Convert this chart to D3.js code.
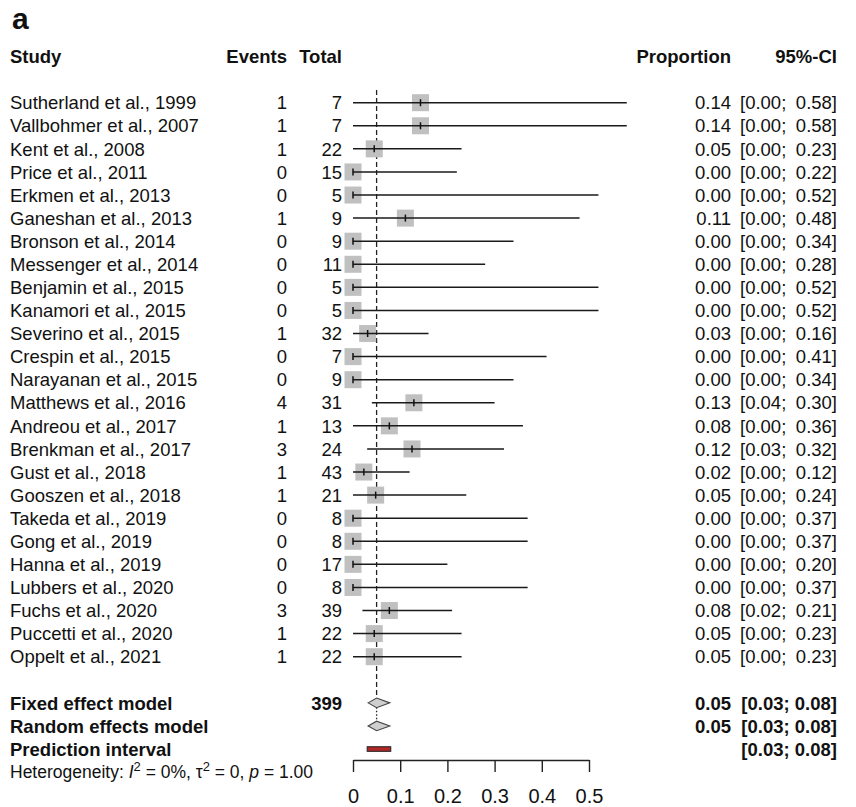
<!DOCTYPE html>
<html>
<head>
<meta charset="utf-8">
<script src="https://cdn.jsdelivr.net/npm/d3@7"></script>
<style>
  html, body { margin: 0; padding: 0; background: #fff; }
  svg text { font-family: "Liberation Sans", Arial, Helvetica, sans-serif; fill: #111; }
</style>
</head>
<body>
<svg id="chart" width="856" height="807"></svg>
<script>
// ---------- data ----------
const studies = [
  "Sutherland et al., 1999", "Vallbohmer et al., 2007", "Kent et al., 2008",
  "Price et al., 2011", "Erkmen et al., 2013", "Ganeshan et al., 2013",
  "Bronson et al., 2014", "Messenger et al., 2014", "Benjamin et al., 2015",
  "Kanamori et al., 2015", "Severino et al., 2015", "Crespin et al., 2015",
  "Narayanan et al., 2015", "Matthews et al., 2016", "Andreou et al., 2017",
  "Brenkman et al., 2017", "Gust et al., 2018", "Gooszen et al., 2018",
  "Takeda et al., 2019", "Gong et al., 2019", "Hanna et al., 2019",
  "Lubbers et al., 2020", "Fuchs et al., 2020", "Puccetti et al., 2020",
  "Oppelt et al., 2021"
];
const events = [1, 1, 1, 0, 0, 1, 0, 0, 0, 0, 1, 0, 0, 4, 1, 3, 1, 1, 0, 0, 0, 0, 3, 1, 1];
const totals = [7, 7, 22, 15, 5, 9, 9, 11, 5, 5, 32, 7, 9, 31, 13, 24, 43, 21, 8, 8, 17, 8, 39, 22, 22];
const proportion = [0.143, 0.143, 0.045, 0, 0, 0.111, 0, 0, 0, 0, 0.031, 0, 0, 0.129, 0.077,
                    0.125, 0.023, 0.048, 0, 0, 0, 0, 0.077, 0.045, 0.045];
const proportionLabels = ["0.14", "0.14", "0.05", "0.00", "0.00", "0.11", "0.00", "0.00", "0.00",
                          "0.00", "0.03", "0.00", "0.00", "0.13", "0.08", "0.12", "0.02", "0.05",
                          "0.00", "0.00", "0.00", "0.00", "0.08", "0.05", "0.05"];
const ciLower = [0.00, 0.00, 0.00, 0.00, 0.00, 0.00, 0.00, 0.00, 0.00, 0.00, 0.00, 0.00, 0.00,
                 0.04, 0.00, 0.03, 0.00, 0.00, 0.00, 0.00, 0.00, 0.00, 0.02, 0.00, 0.00];
const ciUpper = [0.58, 0.58, 0.23, 0.22, 0.52, 0.48, 0.34, 0.28, 0.52, 0.52, 0.16, 0.41, 0.34,
                 0.30, 0.36, 0.32, 0.12, 0.24, 0.37, 0.37, 0.20, 0.37, 0.21, 0.23, 0.23];

const summaryLabels = ["Fixed effect model", "Random effects model", "Prediction interval"];
const summaryEstimate = [0.05, 0.05, null];
const summaryLower = [0.032, 0.032, 0.03];
const summaryUpper = [0.078, 0.078, 0.08];
const summaryCiText = ["[0.03; 0.08]", "[0.03; 0.08]", "[0.03; 0.08]"];
const summaryPropText = ["0.05", "0.05", ""];
const totalEvents = "399";
const axisTicks = [0, 0.1, 0.2, 0.3, 0.4, 0.5];
const headers = { study: "Study", events: "Events", total: "Total", prop: "Proportion", ci: "95%-CI" };

// ---------- layout ----------
const svg = d3.select("#chart");
const x = d3.scaleLinear().domain([0, 0.5]).range([353, 589]);
const row = d3.scaleLinear().domain([0, 24]).range([102.7, 656.7]);
const fs = 18.5;
const colStudy = 10, colEvents = 287, colTotal = 342, colProp = 731, colCiL = 740, colCiR = 837;
const sq = 17;

function txt(g, s, xx, yy, anchor, bold, size) {
  return g.append("text")
    .attr("x", xx).attr("y", yy).attr("dy", "0.36em")
    .attr("text-anchor", anchor || "start")
    .attr("font-weight", bold ? "bold" : "normal")
    .attr("font-size", size || fs)
    .text(s);
}

// panel letter
svg.append("text").attr("x", 12).attr("y", 29).attr("font-size", 30)
  .attr("font-weight", "bold").text("a");

// headers
const hy = row(-2);
const gh = svg.append("g");
txt(gh, headers.study, colStudy, hy, "start", true);
txt(gh, headers.events, colEvents, hy, "end", true);
txt(gh, headers.total, colTotal, hy, "end", true);
txt(gh, headers.prop, colProp, hy, "end", true);
txt(gh, headers.ci, colCiR, hy, "end", true);

// reference lines
svg.append("line").attr("x1", x(0.05)).attr("x2", x(0.05))
  .attr("y1", 90).attr("y2", row(26) - 4.5)
  .attr("stroke", "#222").attr("stroke-width", 1.3).attr("stroke-dasharray", "5,3");
svg.append("line").attr("x1", x(0.05)).attr("x2", x(0.05))
  .attr("y1", row(26) + 4.5).attr("y2", row(27) - 4.5)
  .attr("stroke", "#222").attr("stroke-width", 1.3).attr("stroke-dasharray", "1.5,2");

// study rows
const gt = svg.append("g");
const gm = svg.append("g");
studies.forEach((s, i) => {
  const y = row(i);
  txt(gt, s, colStudy, y, "start", false);
  txt(gt, String(events[i]), colEvents, y, "end", false);
  txt(gt, String(totals[i]), colTotal, y, "end", false);
  txt(gt, proportionLabels[i], colProp, y, "end", false);
  txt(gt, "[" + ciLower[i].toFixed(2) + ";", colCiL, y, "start", false);
  txt(gt, ciUpper[i].toFixed(2) + "]", colCiR, y, "end", false);

  gm.append("rect")
    .attr("x", x(proportion[i]) - sq / 2).attr("y", y - sq / 2)
    .attr("width", sq).attr("height", sq)
    .attr("fill", "#c0c0c0");
  gm.append("line")
    .attr("x1", x(ciLower[i])).attr("x2", x(ciUpper[i]))
    .attr("y1", y).attr("y2", y)
    .attr("stroke", "#1a1a1a").attr("stroke-width", 1.5);
  gm.append("line")
    .attr("x1", x(proportion[i])).attr("x2", x(proportion[i]))
    .attr("y1", y - 3.5).attr("y2", y + 3.5)
    .attr("stroke", "#111").attr("stroke-width", 1.5);
});

// summary rows
summaryLabels.forEach((s, j) => {
  const y = row(26 + j);
  txt(gt, s, colStudy, y, "start", true);
  if (summaryPropText[j]) txt(gt, summaryPropText[j], colProp, y, "end", true);
  txt(gt, summaryCiText[j], colCiR, y, "end", true);
  if (summaryEstimate[j] !== null) {
    const h = 4.8;
    const pts = [[x(summaryLower[j]), y], [x(summaryEstimate[j]), y - h],
                 [x(summaryUpper[j]), y], [x(summaryEstimate[j]), y + h]];
    gm.append("polygon").attr("points", pts.map(p => p.join(",")).join(" "))
      .attr("fill", "#cfcfcf").attr("stroke", "#444").attr("stroke-width", 1.1);
  } else {
    gm.append("rect")
      .attr("x", x(summaryLower[j])).attr("y", y - 2.3)
      .attr("width", x(summaryUpper[j]) - x(summaryLower[j])).attr("height", 4.6)
      .attr("fill", "#b02828").attr("stroke", "#222").attr("stroke-width", 1);
  }
});
txt(gt, totalEvents, colTotal, row(26), "end", true);

// heterogeneity
const het = svg.append("text").attr("x", colStudy).attr("y", row(29)).attr("dy", "0.36em")
  .attr("font-size", 17.5);
het.append("tspan").text("Heterogeneity: ");
het.append("tspan").attr("font-style", "italic").text("I");
het.append("tspan").attr("font-size", 13).attr("dy", "-0.55em").text("2");
het.append("tspan").attr("dy", "0.41em").text(" = 0%, \u03c4");
het.append("tspan").attr("font-size", 13).attr("dy", "-0.55em").text("2");
het.append("tspan").attr("dy", "0.41em").text(" = 0, ");
het.append("tspan").attr("font-style", "italic").text("p");
het.append("tspan").text(" = 1.00");

// axis
const axis = d3.axisBottom(x).tickValues(axisTicks)
  .tickFormat(d => d === 0 ? "0" : d3.format(".1f")(d))
  .tickSize(12).tickSizeOuter(0).tickPadding(17);
const ga = svg.append("g").attr("transform", "translate(0,760)").call(axis);
ga.selectAll("path, line").attr("stroke", "#222").attr("stroke-width", 1.4);
ga.selectAll("text").attr("font-size", 20).attr("fill", "#111")
  .attr("font-family", "Liberation Sans, Arial, sans-serif");
</script>
</body>
</html>
